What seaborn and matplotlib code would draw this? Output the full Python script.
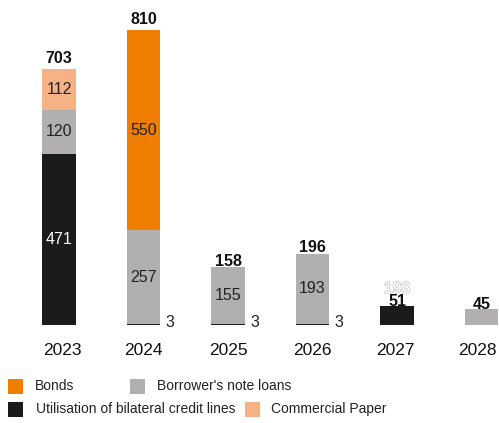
import matplotlib
matplotlib.use("Agg")
import matplotlib.pyplot as plt
import matplotlib.patheffects as pe
import matplotlib.transforms as mtransforms
from matplotlib.patches import Rectangle
import seaborn as sns
import pandas as pd
import numpy as np

years = ["2023", "2024", "2025", "2026", "2027", "2028"]
credit_lines = [471, 3, 3, 3, 51, 0]
borrowers_note = [120, 257, 155, 193, 0, 45]
bonds = [0, 550, 0, 0, 0, 0]
commercial_paper = [112, 0, 0, 0, 0, 0]
totals = [703, 810, 158, 196, 51, 45]
ghost_label_2027 = "193"

series_names = ["Utilisation of bilateral credit lines", "Borrower's note loans",
                "Bonds", "Commercial Paper"]
colors = {"Bonds": "#ef7d00", "Borrower's note loans": "#b2afaf",
          "Utilisation of bilateral credit lines": "#1b1b1b",
          "Commercial Paper": "#f6b184"}

sns.set_theme(style="white")
plt.rcParams["font.family"] = ["Liberation Sans", "DejaVu Sans"]

layers = [credit_lines, borrowers_note, bonds, commercial_paper]
cum = np.cumsum(np.array(layers), axis=0)

fig = plt.figure(figsize=(4.99, 4.23), dpi=100)
ax = fig.add_axes([0, 98 / 423, 1, 325 / 423])

# draw cumulative layers from top to bottom (seaborn stacked-bar technique)
for k in range(len(layers) - 1, -1, -1):
    df = pd.DataFrame({"year": years, "value": cum[k]})
    sns.barplot(data=df, x="year", y="value", color=colors[series_names[k]],
                width=0.4, ax=ax, saturation=1, edgecolor="none", linewidth=0)

ax.set_xlim(-0.698, 5.207)
ax.set_ylim(0, 893)
for s in ax.spines.values():
    s.set_visible(False)
ax.set_yticks([])
ax.set_ylabel("")
ax.set_xlabel("")
ax.tick_params(axis="x", length=0, pad=13, labelsize=12.5, labelcolor="#111111")
shifts_px = [3, 0, 0, 0, -2, -4]
for lab, sh in zip(ax.get_xticklabels(), shifts_px):
    lab.set_transform(lab.get_transform() +
                      mtransforms.ScaledTranslation(sh / 100, 0, fig.dpi_scale_trans))

# segment labels
seg_color = {0: "white", 1: "#222222", 2: "#222222", 3: "#222222"}
for i in range(len(years)):
    for k, layer in enumerate(layers):
        v = layer[i]
        if v >= 100:
            bottom = cum[k][i] - v
            ax.text(i, bottom + v / 2, str(v), ha="center", va="center",
                    fontsize=11.5, color=seg_color[k])
        elif 0 < v < 10:
            ax.text(i + 0.26, 8, str(v), ha="left", va="center",
                    fontsize=11.5, color="#222222")

# totals
offsets = [8, 8, 4.5, 4.5, 3.5, 3]
for i, t in enumerate(totals):
    ax.annotate(str(t), (i, t), xytext=(0, offsets[i]), textcoords="offset points",
                ha="center", va="center", fontsize=11.5, fontweight="bold",
                color="#111111", zorder=5)

# faded ghost label in 2027
ax.annotate(ghost_label_2027, (4, totals[4]), xytext=(0, 13), textcoords="offset points",
            ha="center", va="center", fontsize=11.5, color="white", zorder=1,
            path_effects=[pe.withStroke(linewidth=1.2, foreground="#cfcfcf")])

# legend (manual layout)
W, H = 499, 423
def legend_item(x_sq, x_txt, y_center, label):
    fig.patches.append(Rectangle((x_sq / W, (H - y_center - 7.5) / H), 15 / W, 15 / H,
                                 transform=fig.transFigure, facecolor=colors[label],
                                 edgecolor="none"))
    fig.text(x_txt / W, (H - y_center) / H, label, ha="left", va="center",
             fontsize=10, color="#222222")

legend_item(8, 35, 386, "Bonds")
legend_item(130, 157, 386, "Borrower's note loans")
legend_item(8, 36, 409, "Utilisation of bilateral credit lines")
legend_item(245, 271, 409, "Commercial Paper")

fig.savefig("out.png", dpi=100)
